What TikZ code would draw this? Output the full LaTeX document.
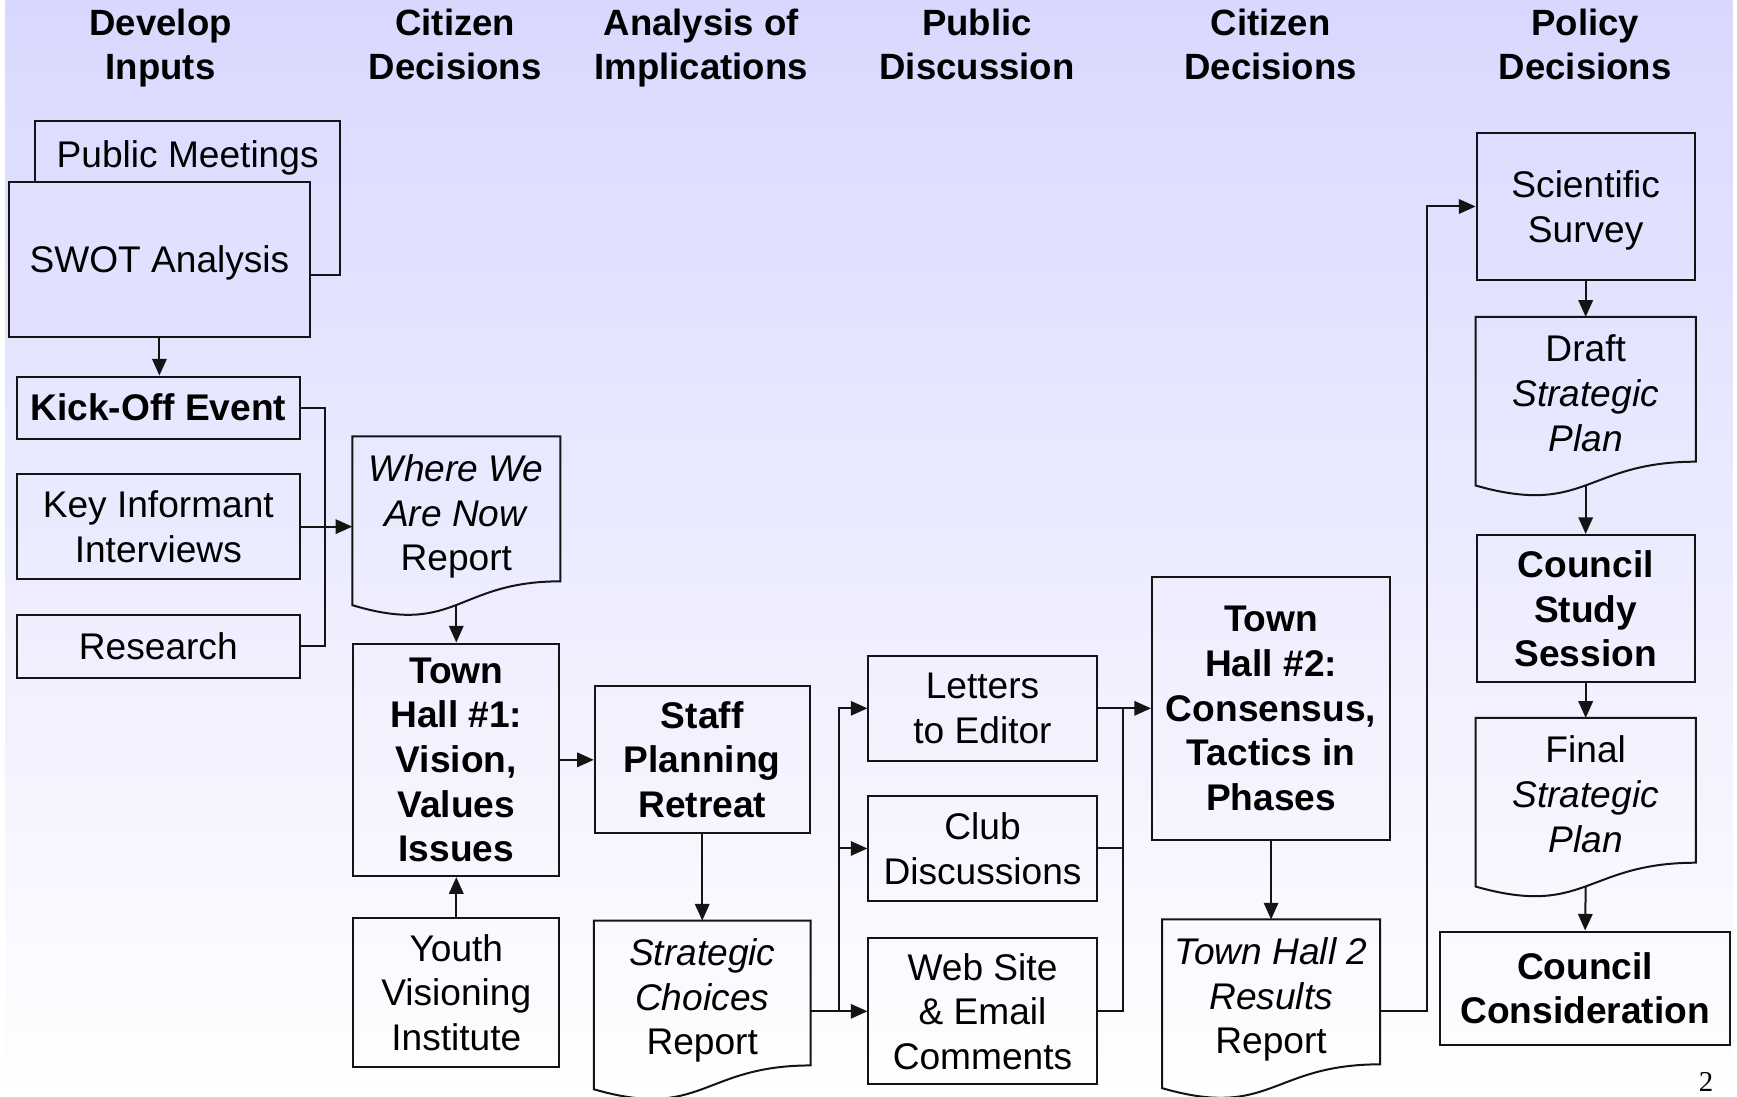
\documentclass[tikz,border=0pt]{standalone}
\usepackage{fontspec}
\setmainfont{Liberation Sans}
\newfontfamily\pagefont{Liberation Serif}
\usetikzlibrary{calc,arrows.meta}

\definecolor{bgtop}{RGB}{216,216,255}
\definecolor{bgswot}{RGB}{225,225,255}
\definecolor{ink}{RGB}{20,20,20}

\newcommand\boxfont{\fontsize{33.5}{40.3}\selectfont}
\newcommand\headfont{\fontsize{33}{40}\selectfont\bfseries}
% strut so that every line block sits centred in its box
\newcommand\lnone{\rule[-8.1pt]{0pt}{40.3pt}}

% document shape: node covers the upper part, wavy bottom drawn below it
\newcommand\docshape[1]{%
  \draw[link] let \p1=(#1.north west), \p2=(#1.south east) in
    (\p1) -- (\x2,\y1) -- (\x2,{\y1+0.949*(\y2-\y1)})
    .. controls ({(\x1+\x2)/2},{\y1+0.949*(\y2-\y1)}) and ({(\x1+\x2)/2},{\y1+1.3107*(\y2-\y1)})
    .. (\x1,{\y1+1.105*(\y2-\y1)}) -- cycle;
  \coordinate (#1-tip) at ($(#1.north)!1.104!(#1.south)$);
}

\begin{document}
\begin{tikzpicture}[x=1pt, y=-1pt,
box/.style = {draw=ink, line width=1.8pt, align=center, font=\boxfont,
  inner sep=4pt, anchor=north west, execute at begin node=\lnone, text depth=0pt},
oneline/.style = {text depth=},
strong/.style = {box, font=\boxfont\bfseries},
docbox/.style = {box, draw=none, minimum height=136},
head/.style = {align=center, font=\headfont, text depth=0pt},
link/.style = {draw=ink, line width=1.8pt},
arr/.style = {link, -{Triangle[length=15pt,width=13pt]}}]
\useasboundingbox (0,0) rectangle (1568,990);
\shade[top color=bgtop, bottom color=white] (5,0) rectangle (1564,990);

% column heads
\node[head] (hInputs)   at (145,40)  {Develop\\Inputs};
\node[head] (hCitizenA) at (411,40)  {Citizen\\Decisions};
\node[head] (hAnalysis) at (633,40)  {Analysis of\\Implications};
\node[head] (hPublic)   at (882,40)  {Public\\Discussion};
\node[head] (hCitizenB) at (1147,40) {Citizen\\Decisions};
\node[head] (hPolicy)   at (1431,40) {Policy\\Decisions};

% develop inputs
\node[box, minimum width=275, inner ysep=0pt, text height=42pt, text depth=97pt]
  (pm) at (31,108) {Public Meetings};
\node[box, oneline, fill=bgswot, minimum width=272, minimum height=140] (swot) at (7,163)
  {SWOT Analysis};
\node[strong, oneline, minimum width=256, minimum height=56] (kick) at (14,339) {Kick-Off Event};
\node[box, minimum width=256, minimum height=95] (interviews) at (14,427)
  {Key Informant\\Interviews};
\node[box, oneline, minimum width=256, minimum height=57] (research) at (14,554) {Research};

% citizen decisions
\node[docbox, minimum width=186] (wherenow) at (318,394)
  {\textit{Where We}\\\textit{Are Now}\\Report};
\docshape{wherenow}
\node[strong, minimum width=186, minimum height=210] (townhallA) at (318,580)
  {Town\\Hall \#1:\\Vision,\\Values\\Issues};
\node[box, minimum width=186, minimum height=134] (youth) at (318,828)
  {Youth\\Visioning\\Institute};

% analysis of implications
\node[strong, minimum width=194, minimum height=133] (retreat) at (536,618)
  {Staff\\Planning\\Retreat};
\node[docbox, minimum width=194] (choices) at (536,831)
  {\textit{Strategic}\\\textit{Choices}\\Report};
\docshape{choices}

% public discussion
\node[box, minimum width=206, minimum height=95] (letters) at (783,591)
  {Letters\\to Editor};
\node[box, minimum width=206, minimum height=94] (clubs) at (783,718)
  {Club\\Discussions};
\node[box, minimum width=206, minimum height=132] (webmail) at (783,846)
  {Web Site\\\& Email\\Comments};

% citizen decisions
\node[strong, minimum width=215, minimum height=237] (townhallB) at (1039,520)
  {Town\\Hall \#2:\\Consensus,\\Tactics in\\Phases};
\node[docbox, minimum width=195] (results) at (1049,830)
  {\textit{Town Hall 2}\\\textit{Results}\\Report};
\docshape{results}

% policy decisions
\node[box, minimum width=197, minimum height=133] (survey) at (1332,119)
  {Scientific\\Survey};
\node[docbox, minimum width=197] (draftplan) at (1332,286)
  {Draft\\\textit{Strategic}\\\textit{Plan}};
\docshape{draftplan}
\node[strong, minimum width=197, minimum height=133] (studysession) at (1332,482)
  {Council\\Study\\Session};
\node[docbox, minimum width=197] (finalplan) at (1332,648)
  {Final\\\textit{Strategic}\\\textit{Plan}};
\docshape{finalplan}
\node[strong, minimum width=262, minimum height=102] (council) at (1299,840)
  {Council\\Consideration};

\node[font=\pagefont\fontsize{26}{28}\selectfont] (pagenum) at (1540,977) {2};

% connectors
\coordinate (busA) at (293,0);
\coordinate (busB) at (757,0);
\coordinate (busC) at (1014,0);
\coordinate (busD) at (1288,0);

\draw[arr] (swot.south) -- (swot.south |- kick.north);
\draw[link] (kick.east) -| (busA |- research.east) -- (research.east);
\draw[arr] (interviews.east) -- (interviews.east -| wherenow.west);
\draw[arr] (wherenow-tip) -- (townhallA.north);
\draw[arr] (youth.north) -- (townhallA.south);
\draw[arr] (townhallA.east) -- (townhallA.east -| retreat.west);
\draw[arr] (retreat.south) -- (choices.north);

\draw[arr] (choices.east |- webmail.west) -- (webmail.west);
\draw[arr] (busB |- webmail.west) |- (letters.west);
\draw[arr] (busB |- clubs.west) -- (clubs.west);

\draw[arr] (letters.east) -- (townhallB.west);
\draw[link] (webmail.east) -| (busC |- letters.east);
\draw[link] (clubs.east) -- (busC |- clubs.east);
\draw[arr] (townhallB.south) -- (results.north);

\draw[arr] (results.east |- webmail.east) -| (busD |- survey.west) -- (survey.west);
\draw[arr] (survey.south) -- (draftplan.north);
\draw[arr] (draftplan-tip) -- (studysession.north);
\draw[arr] (studysession.south) -- (finalplan.north);
\draw[arr] (finalplan-tip) -- (council.north);
\end{tikzpicture}
\end{document}
